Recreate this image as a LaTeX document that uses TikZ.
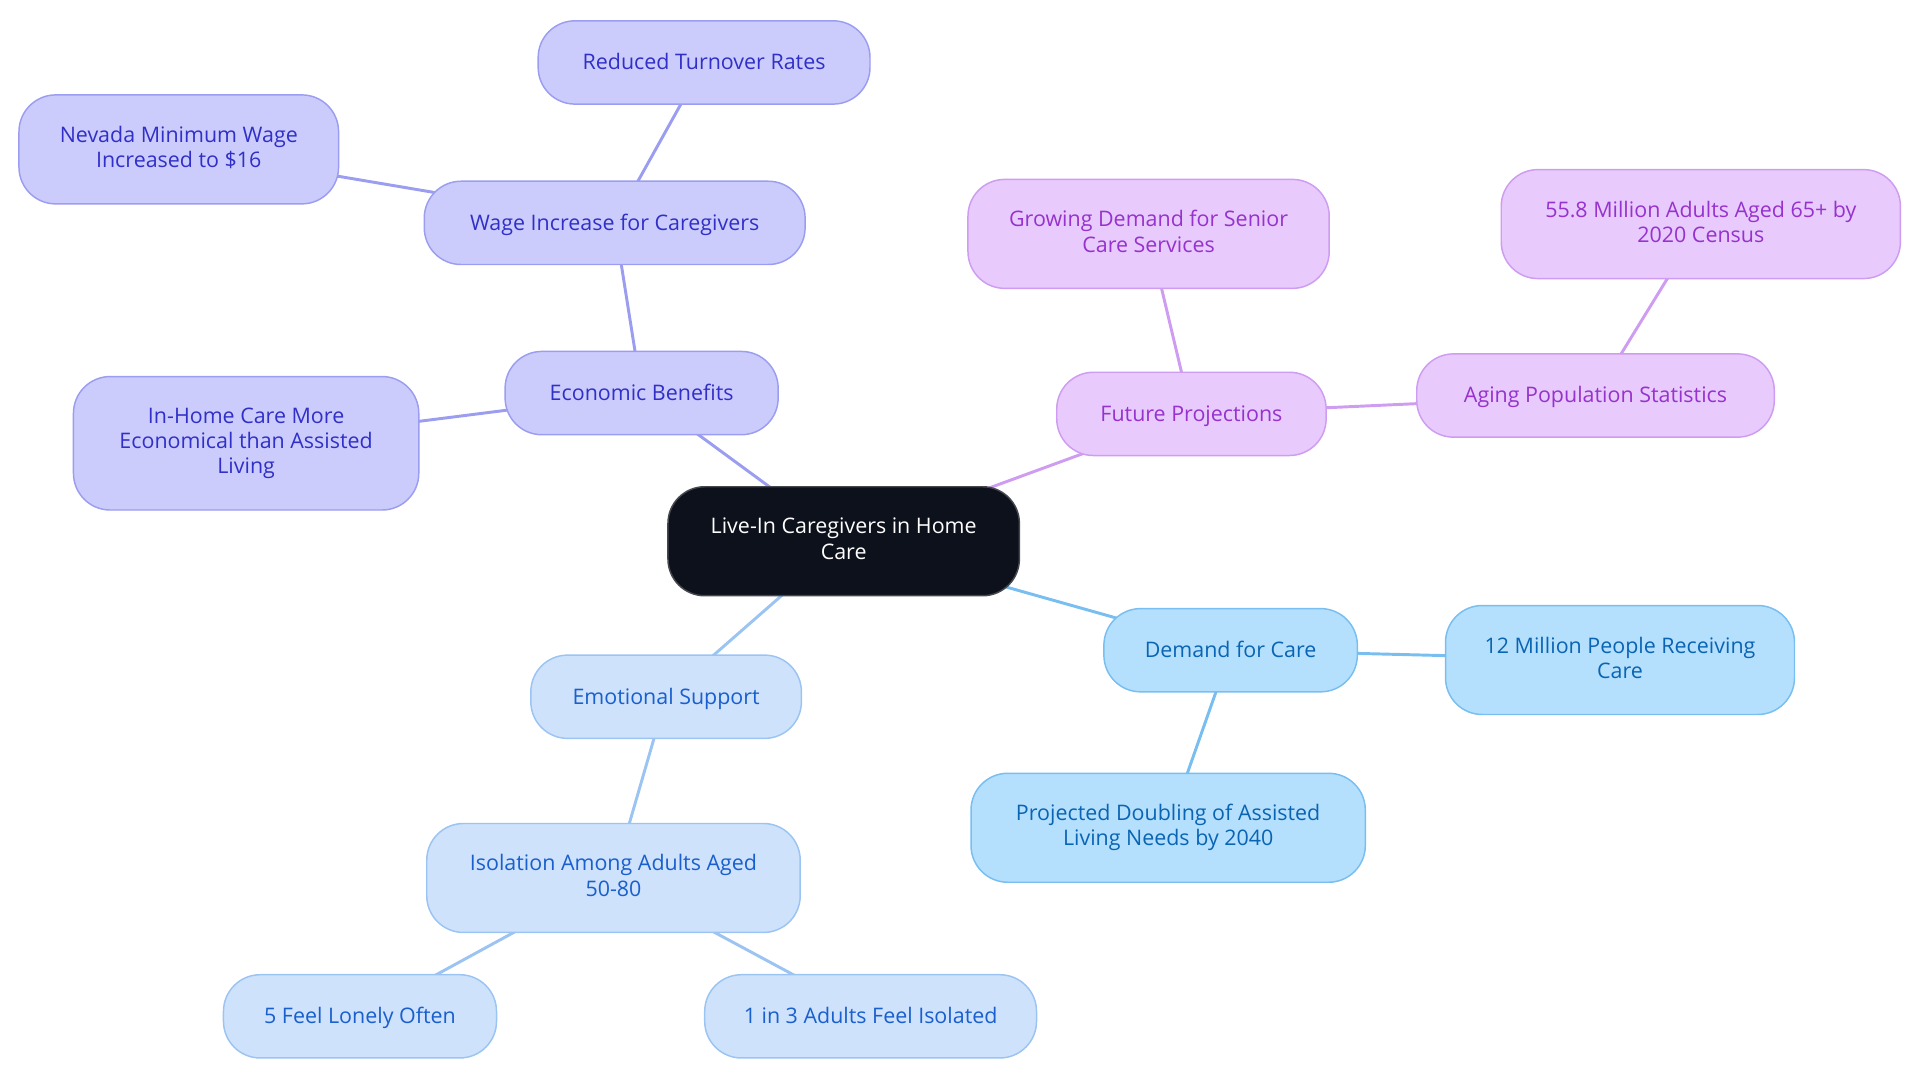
\documentclass[tikz,border=0pt]{standalone}
\usepackage{fontspec}
\setmainfont{Open Sans}
\usepackage{tikz}
\usetikzlibrary{backgrounds}
\definecolor{rootFill}{RGB}{12,17,27}
\definecolor{rootLine}{RGB}{70,72,78}
\definecolor{econFill}{RGB}{204,204,252}
\definecolor{econLine}{RGB}{155,157,240}
\definecolor{econText}{RGB}{48,48,200}
\definecolor{futFill}{RGB}{232,202,252}
\definecolor{futLine}{RGB}{206,156,241}
\definecolor{futText}{RGB}{150,50,205}
\definecolor{demFill}{RGB}{180,224,253}
\definecolor{demLine}{RGB}{120,190,240}
\definecolor{demText}{RGB}{10,100,180}
\definecolor{emoFill}{RGB}{206,226,252}
\definecolor{emoLine}{RGB}{155,196,242}
\definecolor{emoText}{RGB}{25,95,205}
\newcommand{\nstrut}{\rule[-4.2pt]{0pt}{20.5pt}}

\begin{document}
\begin{tikzpicture}[x=1pt,y=-1pt,
	every node/.style={rounded corners=30pt,line width=1.2pt,align=center,inner xsep=12pt,inner ysep=2pt,
		execute at begin node=\nstrut,execute at end node=\nstrut,
		font=\fontsize{17.5}{20.5}\selectfont},
	one/.style={minimum height=68pt},
	two/.style={minimum height=89pt},
	three/.style={minimum height=109pt},
	root/.style={draw=rootLine,fill=rootFill,text=white},
	econ/.style={draw=econLine,fill=econFill,text=econText},
	fut/.style={draw=futLine,fill=futFill,text=futText},
	dem/.style={draw=demLine,fill=demFill,text=demText},
	emo/.style={draw=emoLine,fill=emoFill,text=emoText},
	link/.style={line width=2.4pt}]
\useasboundingbox (0,0) rectangle (1568,884.5);

% centre
\node[root,two,minimum width=287pt] (nRoot) at (689,442) {Live-In Caregivers in Home\\Care};

% economic branch
\node[econ,one,minimum width=223pt] (nEcon) at (524,321) {Economic Benefits};
\node[econ,one,minimum width=311pt] (nWage) at (502,182) {Wage Increase for Caregivers};
\node[econ,one,minimum width=271pt] (nTurn) at (575,51) {Reduced Turnover Rates};
\node[econ,two,minimum width=261pt] (nNev) at (146,122) {Nevada Minimum Wage\\Increased to \$16};
\node[econ,three,minimum width=282pt] (nHome) at (201,362) {In-Home Care More\\Economical than Assisted\\Living};

% future branch
\node[fut,one,minimum width=220pt] (nFut) at (973,338) {Future Projections};
\node[fut,two,minimum width=295pt] (nGrow) at (938,191) {Growing Demand for Senior\\Care Services};
\node[fut,one,minimum width=292pt] (nAge) at (1303,323) {Aging Population Statistics};
\node[fut,two,minimum width=326pt] (nCens) at (1389,183) {55.8 Million Adults Aged 65+ by\\2020 Census};

% demand branch
\node[dem,one,minimum width=207pt] (nDem) at (1005,531) {Demand for Care};
\node[dem,two,minimum width=285pt] (nMil) at (1323,539) {12 Million People Receiving\\Care};
\node[dem,two,minimum width=322pt] (nProj) at (954,676) {Projected Doubling of Assisted\\Living Needs by 2040};

% emotional branch
\node[emo,one,minimum width=221pt] (nEmo) at (544,569) {Emotional Support};
\node[emo,two,minimum width=305pt] (nIso) at (501,717) {Isolation Among Adults Aged\\50-80};
\node[emo,one,minimum width=223pt] (nLone) at (294,830) {5 Feel Lonely Often};
\node[emo,one,minimum width=271pt] (nIsol) at (711,830) {1 in 3 Adults Feel Isolated};

\begin{scope}[on background layer]
	\draw[link,econLine] (nRoot.center) -- (nEcon.center);
	\draw[link,econLine] (nEcon.center) -- (nWage.center);
	\draw[link,econLine] (nWage.center) -- (nTurn.center);
	\draw[link,econLine] (nWage.center) -- (nNev.center);
	\draw[link,econLine] (nEcon.center) -- (nHome.center);
	\draw[link,futLine] (nRoot.center) -- (nFut.center);
	\draw[link,futLine] (nFut.center) -- (nGrow.center);
	\draw[link,futLine] (nFut.center) -- (nAge.center);
	\draw[link,futLine] (nAge.center) -- (nCens.center);
	\draw[link,demLine] (nRoot.center) -- (nDem.center);
	\draw[link,demLine] (nDem.center) -- (nMil.center);
	\draw[link,demLine] (nDem.center) -- (nProj.center);
	\draw[link,emoLine] (nRoot.center) -- (nEmo.center);
	\draw[link,emoLine] (nEmo.center) -- (nIso.center);
	\draw[link,emoLine] (nIso.center) -- (nLone.center);
	\draw[link,emoLine] (nIso.center) -- (nIsol.center);
\end{scope}
\end{tikzpicture}
\end{document}
